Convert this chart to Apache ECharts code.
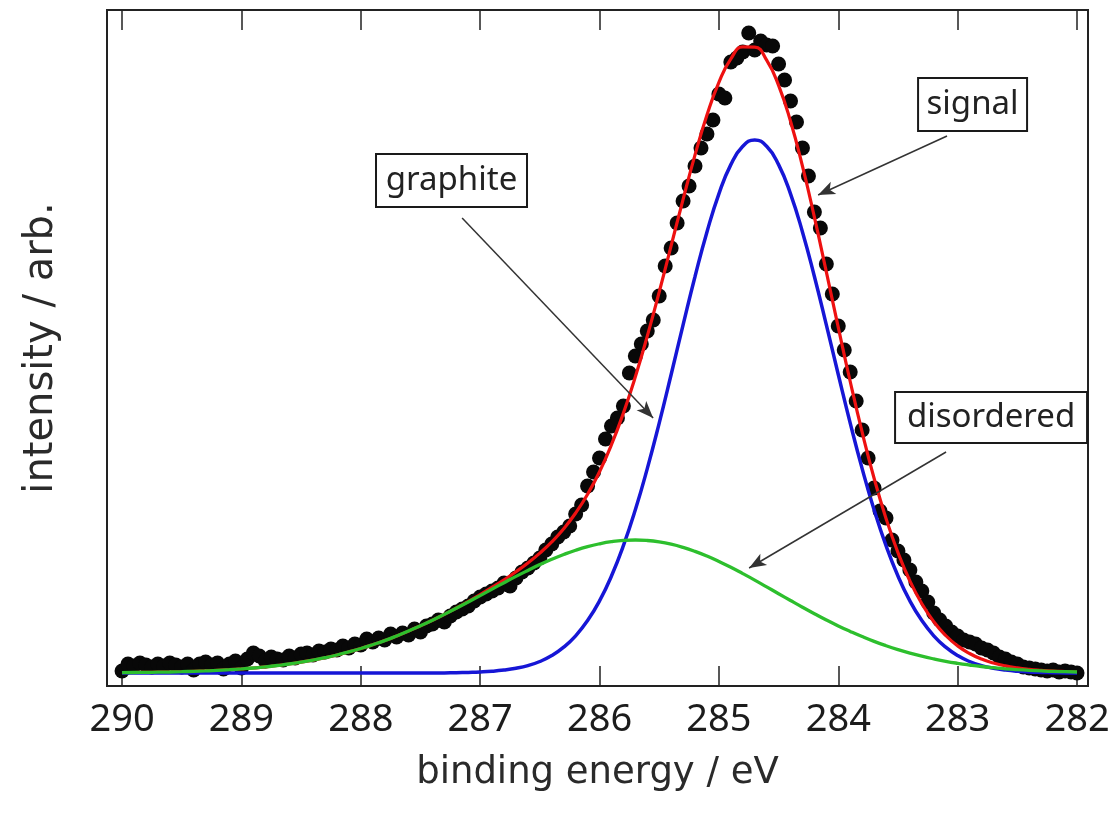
<!DOCTYPE html>
<html>
<head>
<meta charset="utf-8">
<title>C 1s spectrum</title>
<script src="https://cdn.jsdelivr.net/npm/echarts@6/dist/echarts.min.js"></script>
<style>
  html, body { margin: 0; padding: 0; background: #ffffff; }
  #chart { width: 1115px; height: 816px; }
</style>
</head>
<body>
<div id="chart"></div>
<script>
// Measured points (binding energy in eV, intensity in arbitrary units)
const dotEnergy = [
  290.00, 289.95, 289.90, 289.85, 289.80, 289.75, 289.70, 289.65, 289.60, 289.55,
  289.50, 289.45, 289.40, 289.35, 289.30, 289.25, 289.20, 289.15, 289.10, 289.05,
  289.00, 288.95, 288.90, 288.85, 288.80, 288.75, 288.70, 288.65, 288.60, 288.55,
  288.50, 288.45, 288.40, 288.35, 288.30, 288.25, 288.20, 288.15, 288.10, 288.05,
  288.00, 287.95, 287.90, 287.85, 287.80, 287.75, 287.70, 287.65, 287.60, 287.55,
  287.50, 287.45, 287.40, 287.35, 287.30, 287.25, 287.20, 287.15, 287.10, 287.05,
  287.00, 286.95, 286.90, 286.85, 286.80, 286.75, 286.70, 286.65, 286.60, 286.55,
  286.50, 286.45, 286.40, 286.35, 286.30, 286.25, 286.20, 286.15, 286.10, 286.05,
  286.00, 285.95, 285.90, 285.85, 285.80, 285.75, 285.70, 285.65, 285.60, 285.55,
  285.50, 285.45, 285.40, 285.35, 285.30, 285.25, 285.20, 285.15, 285.10, 285.05,
  285.00, 284.95, 284.90, 284.85, 284.80, 284.75, 284.70, 284.65, 284.60, 284.55,
  284.50, 284.45, 284.40, 284.35, 284.30, 284.25, 284.20, 284.15, 284.10, 284.05,
  284.00, 283.95, 283.90, 283.85, 283.80, 283.75, 283.70, 283.65, 283.60, 283.55,
  283.50, 283.45, 283.40, 283.35, 283.30, 283.25, 283.20, 283.15, 283.10, 283.05,
  283.00, 282.95, 282.90, 282.85, 282.80, 282.75, 282.70, 282.65, 282.60, 282.55,
  282.50, 282.45, 282.40, 282.35, 282.30, 282.25, 282.20, 282.15, 282.10, 282.05,
  282.00
];
const dotIntensity = [
  15, 22, 20, 23, 21, 19, 22, 20, 23, 21,
  19, 22, 16, 22, 24, 21, 23, 17, 22, 25,
  18, 27, 33, 30, 25, 29, 27, 26, 30, 28,
  32, 33, 31, 35, 34, 37, 36, 40, 38, 42,
  41, 47, 44, 48, 46, 52, 49, 53, 51, 57,
  54, 60, 62, 66, 64, 70, 74, 77, 80, 85,
  89, 92, 95, 98, 103, 100, 108, 114, 118, 123,
  128, 136, 142, 149, 154, 160, 172, 181, 200, 214,
  228, 247, 260, 268, 280, 313, 330, 342, 355, 366,
  390, 420, 438, 463, 485, 500, 520, 538, 552, 566,
  592, 588, 624, 628, 634, 653, 636, 645, 641, 640,
  622, 606, 585, 564, 538, 510, 474, 458, 422, 392,
  360, 336, 314, 285, 256, 228, 198, 175, 168, 146,
  135, 126, 116, 104, 95, 84, 73, 66, 60, 54,
  50, 46, 44, 42, 38, 36, 33, 29, 27, 24,
  22, 19, 18, 17, 16, 15, 16, 14, 15, 14,
  13
];

// Fitted curves sampled every 0.1 eV
const fitEnergy = [
  290.0, 289.9, 289.8, 289.7, 289.6, 289.5, 289.4, 289.3, 289.2, 289.1,
  289.0, 288.9, 288.8, 288.7, 288.6, 288.5, 288.4, 288.3, 288.2, 288.1,
  288.0, 287.9, 287.8, 287.7, 287.6, 287.5, 287.4, 287.3, 287.2, 287.1,
  287.0, 286.9, 286.8, 286.7, 286.6, 286.5, 286.4, 286.3, 286.2, 286.1,
  286.0, 285.9, 285.8, 285.7, 285.6, 285.5, 285.4, 285.3, 285.2, 285.1,
  285.0, 284.9, 284.8, 284.7, 284.6, 284.5, 284.4, 284.3, 284.2, 284.1,
  284.0, 283.9, 283.8, 283.7, 283.6, 283.5, 283.4, 283.3, 283.2, 283.1,
  283.0, 282.9, 282.8, 282.7, 282.6, 282.5, 282.4, 282.3, 282.2, 282.1,
  282.0
];
const signalFit = [
  13.4, 13.5, 13.6, 13.8, 14.0, 14.3, 14.7, 15.1, 15.6, 16.3,
  17.1, 18.0, 19.1, 20.5, 22.0, 23.8, 25.9, 28.3, 31.0, 34.1,
  37.5, 41.3, 45.4, 50.0, 54.9, 60.2, 65.7, 71.7, 78.0, 84.6,
  91.4, 98.6, 106.2, 114.3, 123.0, 132.9, 144.1, 157.3, 173.0, 191.8,
  214.3, 241.3, 272.9, 309.2, 349.9, 394.0, 440.3, 486.7, 531.1, 571.0,
  603.7, 627.1, 639.1, 638.9, 625.8, 600.7, 564.7, 519.9, 468.8, 414.1,
  358.6, 304.5, 253.8, 207.8, 167.6, 133.4, 105.0, 82.2, 64.3, 50.5,
  40.1, 32.5, 26.9, 23.0, 20.1, 18.1, 16.7, 15.7, 14.9, 14.4,
  14.0
];
const graphiteFit = [
  13.0, 13.0, 13.0, 13.0, 13.0, 13.0, 13.0, 13.0, 13.0, 13.0,
  13.0, 13.0, 13.0, 13.0, 13.0, 13.0, 13.0, 13.0, 13.0, 13.0,
  13.0, 13.0, 13.0, 13.0, 13.0, 13.0, 13.0, 13.1, 13.3, 13.6,
  14.0, 14.7, 15.9, 17.7, 20.4, 24.5, 30.4, 38.8, 50.2, 65.4,
  85.1, 110.0, 140.3, 176.2, 217.4, 262.9, 311.5, 361.1, 409.5, 454.1,
  492.2, 521.4, 539.7, 546.0, 539.7, 521.4, 492.2, 454.1, 409.5, 361.1,
  311.5, 262.9, 217.4, 176.2, 140.3, 110.0, 85.1, 65.4, 50.2, 38.8,
  30.4, 24.5, 20.4, 17.7, 15.9, 14.7, 14.0, 13.6, 13.3, 13.1,
  13.0
];
const disorderedFit = [
  13.4, 13.5, 13.6, 13.8, 14.0, 14.3, 14.7, 15.1, 15.6, 16.3,
  17.1, 18.0, 19.1, 20.5, 22.0, 23.8, 25.9, 28.3, 31.0, 34.1,
  37.5, 41.3, 45.4, 50.0, 54.9, 60.2, 65.7, 71.6, 77.7, 84.0,
  90.4, 96.9, 103.3, 109.6, 115.6, 121.4, 126.7, 131.5, 135.8, 139.4,
  142.2, 144.3, 145.6, 146.0, 145.5, 144.1, 141.8, 138.6, 134.6, 129.9,
  124.5, 118.7, 112.4, 105.9, 99.1, 92.3, 85.5, 78.8, 72.3, 66.0,
  60.1, 54.6, 49.4, 44.6, 40.3, 36.4, 32.9, 29.8, 27.1, 24.7,
  22.7, 21.0, 19.5, 18.3, 17.2, 16.4, 15.7, 15.1, 14.6, 14.3,
  14.0
];

// Axis ticks
const energyTicks = [282, 283, 284, 285, 286, 287, 288, 289, 290];

// Callout labels: text, box centre (eV, intensity), box size
const calloutText = ['graphite', 'signal', 'disordered'];
const calloutCentre = [[287.24, 505.5], [282.875, 581.5], [282.72, 268.5]];
const calloutSize = [[151, 53], [109, 53], [192, 51]];
// Callout arrows: start and tip (eV, intensity)
const arrowFrom = [[287.151, 468], [283.089, 550], [283.097, 234]];
const arrowTo = [[285.551, 268], [284.169, 491], [284.747, 118]];

const pair = (xs, ys) => xs.map((x, i) => [x, ys[i]]);

const FONT = '"Noto Sans", "DejaVu Sans", sans-serif';
const NAME_FONT = '"DejaVu Sans", "Noto Sans", sans-serif';
const INK = '#1c1c1c';

const chart = echarts.init(document.getElementById('chart'), null, { renderer: 'canvas' });

const xCommon = {
  type: 'value',
  inverse: true,
  min: 281.908,
  max: 290.126,
  splitLine: { show: false },
  axisLine: { show: false }
};

chart.setOption({
  animation: false,
  backgroundColor: '#ffffff',
  grid: {
    left: 107, right: 27, top: 10, bottom: 130,
    show: true, borderColor: '#222', borderWidth: 2, backgroundColor: 'transparent'
  },
  xAxis: [
    Object.assign({}, xCommon, {
      position: 'bottom',
      axisTick: {
        show: true, inside: true, length: 20, customValues: energyTicks,
        lineStyle: { color: '#222', width: 1.5 }
      },
      axisLabel: {
        show: true, customValues: energyTicks, margin: 15,
        fontFamily: FONT, fontSize: 38, color: INK,
        formatter: v => String(Math.round(v))
      },
      name: 'binding energy / eV',
      nameLocation: 'middle',
      nameGap: 69,
      nameTextStyle: { fontFamily: NAME_FONT, fontSize: 37, color: '#2a2a2a' }
    }),
    Object.assign({}, xCommon, {
      position: 'top',
      axisTick: {
        show: true, inside: true, length: 20, customValues: energyTicks,
        lineStyle: { color: '#222', width: 1.5 }
      },
      axisLabel: { show: false }
    })
  ],
  yAxis: {
    type: 'value',
    min: 0, max: 676,
    axisLine: { show: false },
    axisTick: { show: false },
    axisLabel: { show: false },
    splitLine: { show: false },
    name: 'intensity / arb.',
    nameLocation: 'middle',
    nameGap: 45,
    nameTextStyle: { fontFamily: NAME_FONT, fontSize: 40, color: '#2a2a2a' }
  },
  series: [
    {
      name: 'data',
      type: 'scatter',
      data: pair(dotEnergy, dotIntensity),
      symbol: 'circle',
      symbolSize: 15,
      itemStyle: { color: '#080808', opacity: 1 },
      z: 2,
      markLine: {
        silent: true,
        symbol: ['none', 'arrow'],
        symbolSize: [10, 17],
        label: { show: false },
        lineStyle: { color: '#333', width: 1.5, type: 'solid' },
        data: arrowFrom.map((p, i) => [{ coord: p }, { coord: arrowTo[i] }]),
        z: 10
      }
    },
    {
      name: 'signal',
      type: 'line',
      data: pair(fitEnergy, signalFit),
      smooth: true,
      showSymbol: false,
      lineStyle: { color: '#ee1111', width: 3.2 },
      z: 3
    },
    {
      name: 'graphite',
      type: 'line',
      data: pair(fitEnergy, graphiteFit),
      smooth: true,
      showSymbol: false,
      lineStyle: { color: '#1616d6', width: 3.5 },
      z: 4
    },
    {
      name: 'disordered',
      type: 'line',
      data: pair(fitEnergy, disorderedFit),
      smooth: true,
      showSymbol: false,
      lineStyle: { color: '#2dbf2d', width: 3.3 },
      z: 5
    }
  ]
});

// Boxed callout labels positioned from data coordinates
const graphics = [];
calloutText.forEach((t, i) => {
  const c = chart.convertToPixel({ xAxisIndex: 0, yAxisIndex: 0 }, calloutCentre[i]);
  const w = calloutSize[i][0], h = calloutSize[i][1];
  graphics.push({
    type: 'rect',
    shape: { x: c[0] - w / 2, y: c[1] - h / 2, width: w, height: h },
    style: { fill: '#ffffff', stroke: '#1a1a1a', lineWidth: 2 },
    z: 100
  });
  graphics.push({
    type: 'text',
    x: c[0], y: c[1],
    style: {
      text: t, align: 'center', verticalAlign: 'middle',
      font: '33px ' + FONT, fill: '#222'
    },
    z: 101
  });
});
chart.setOption({ graphic: graphics });
</script>
</body>
</html>
